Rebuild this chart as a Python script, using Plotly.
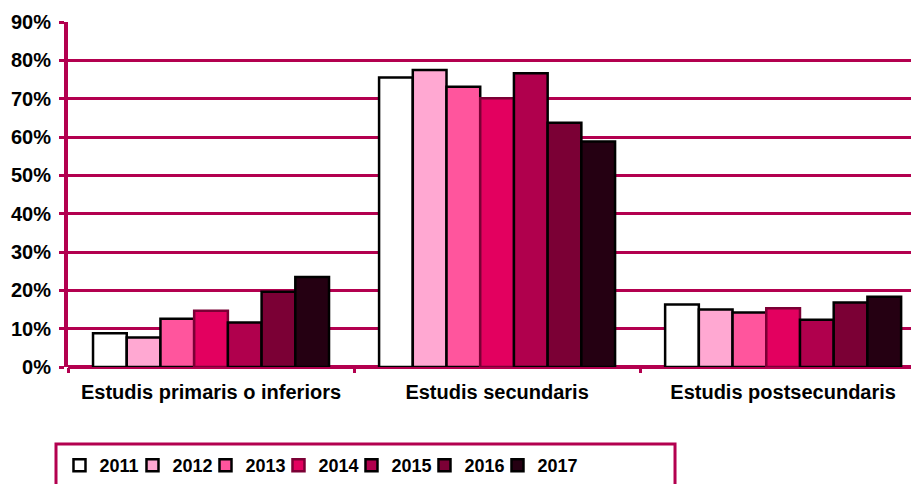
import plotly.graph_objects as go

categories = ["Estudis primaris o inferiors", "Estudis secundaris", "Estudis postsecundaris"]
years = ["2011", "2012", "2013", "2014", "2015", "2016", "2017"]
values = {
    "2011": [0.088, 0.755, 0.163],
    "2012": [0.077, 0.775, 0.150],
    "2013": [0.126, 0.731, 0.142],
    "2014": [0.147, 0.701, 0.153],
    "2015": [0.116, 0.766, 0.123],
    "2016": [0.196, 0.637, 0.168],
    "2017": [0.235, 0.588, 0.183],
}
colors = ["#FFFFFF", "#FFA8D2", "#FF559D", "#E3005F", "#B0004D", "#7B0035", "#250012"]
outlines = ["#000000", "#000000", "#000000", "#7B0035", "#000000", "#000000", "#000000"]
ytickvals = [0, 0.1, 0.2, 0.3, 0.4, 0.5, 0.6, 0.7, 0.8, 0.9]
yticktext = ["0%", "10%", "20%", "30%", "40%", "50%", "60%", "70%", "80%", "90%"]

MAROON = "#B3004F"
FONT = "Liberation Sans"

fig = go.Figure()
for yr, c, oc in zip(years, colors, outlines):
    fig.add_trace(go.Bar(
        name=yr, x=categories, y=values[yr],
        marker=dict(color=c, line=dict(color=oc, width=2.5)),
    ))

# empty spacer legend entry so the last label is not clipped
fig.add_trace(go.Scatter(
    x=[None], y=[None], name="", mode="markers",
    marker=dict(color="rgba(0,0,0,0)", size=1), hoverinfo="skip",
))

# legend frame (wider than its content, as in the original)
fig.add_shape(type="rect", xref="paper", yref="paper",
              x0=-0.0141, x1=0.7133, y0=-0.45, y1=-0.2232,
              line=dict(color=MAROON, width=3), fillcolor="rgba(0,0,0,0)", layer="above")

fig.update_layout(
    width=911, height=476,
    margin=dict(l=60, r=0, t=14, b=117),
    paper_bgcolor="white", plot_bgcolor="white",
    barmode="group", bargap=0.175, bargroupgap=0,
    font=dict(family=FONT, color="black", size=17, weight="bold"),
    showlegend=True,
    legend=dict(
        orientation="h", x=-0.010, y=-0.232, xanchor="left", yanchor="top",
        borderwidth=0, bgcolor="rgba(0,0,0,0)",
        font=dict(family=FONT, size=18, color="black", weight="bold"),
        entrywidth=28, itemwidth=30, traceorder="normal",
    ),
    xaxis=dict(
        range=[-0.5, 2.475], showgrid=False, showline=False, automargin=False,
        ticks="outside", tickson="boundaries", ticklen=5, tickwidth=3, tickcolor=MAROON,
        tickfont=dict(family=FONT, size=20, color="black", weight="bold"),
        ticklabelstandoff=11,
        fixedrange=True,
    ),
    yaxis=dict(
        range=[0, 0.9], tickvals=ytickvals, ticktext=yticktext, automargin=False,
        showgrid=True, gridcolor=MAROON, gridwidth=3,
        zeroline=True, zerolinecolor=MAROON, zerolinewidth=4,
        showline=True, linecolor=MAROON, linewidth=4,
        ticks="outside", ticklen=5, tickwidth=3, tickcolor=MAROON,
        tickfont=dict(family=FONT, size=20, color="black", weight="bold"),
        ticklabelstandoff=4,
        fixedrange=True,
    ),
)

fig.write_html("out.html")
